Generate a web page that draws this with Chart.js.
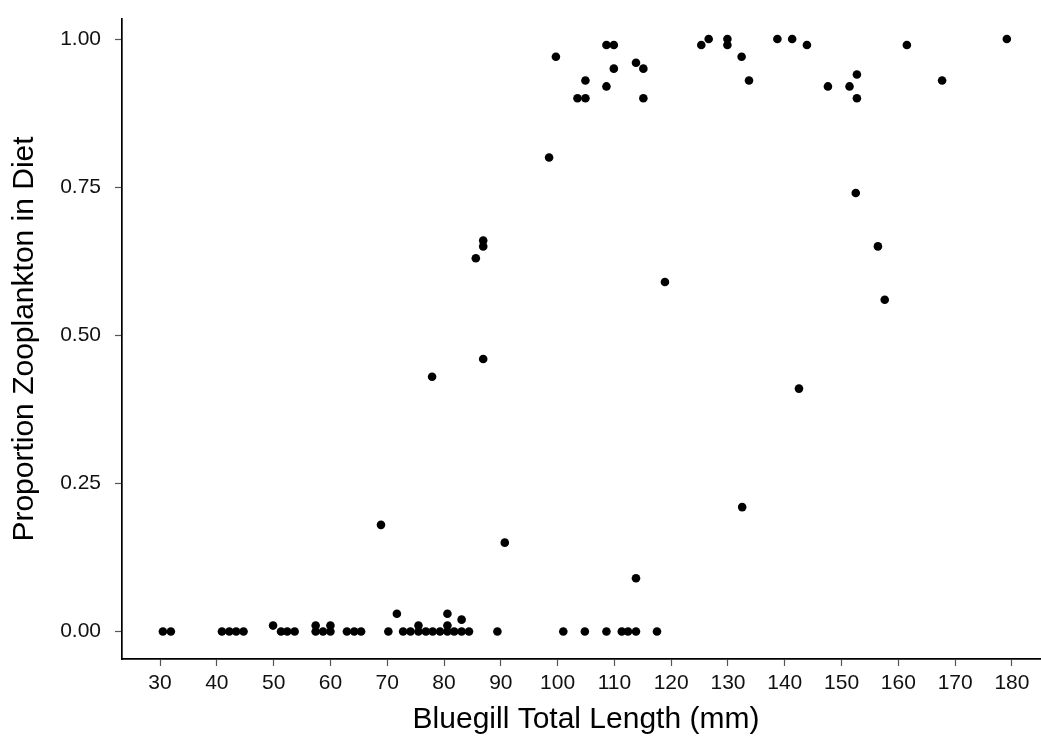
<!DOCTYPE html>
<html>
<head>
<meta charset="utf-8">
<script src="https://cdn.jsdelivr.net/npm/chart.js@4.4.1/dist/chart.umd.min.js"></script>
<style>
  html, body { margin: 0; padding: 0; background: #fff; overflow: hidden; width: 1041px; height: 750px; }
  #wrap { width: 1060px; height: 750px; }
</style>
</head>
<body>
<div id="wrap"><canvas id="c" width="1060" height="750"></canvas></div>
<script>
// Bluegill total length (mm) and proportion of zooplankton in the diet, one entry per fish
const lengthMm = [
  30.5, 31.9, 40.9, 42.2, 43.4, 44.7, 49.9, 51.3, 52.4, 53.7,
  57.4, 57.4, 58.7, 60.0, 60.0, 62.9, 64.2, 65.4, 70.2, 71.7,
  72.8, 74.1, 75.5, 75.5, 76.8, 78.0, 79.3, 80.6, 80.6, 80.6,
  81.8, 83.1, 83.1, 84.4, 89.4, 101.0, 104.8, 108.6, 111.3, 112.4,
  113.8, 117.5,
  68.9, 77.9, 85.6, 86.9, 86.9, 86.9, 90.7, 98.5, 99.7, 108.6,
  109.9, 109.9, 104.9, 108.6, 103.5, 104.9, 113.8, 115.1, 115.1, 113.8,
  118.9, 125.3, 126.6, 129.9, 129.9, 132.4, 133.7, 132.5, 138.7, 141.3,
  143.9, 142.5, 147.6, 151.4, 152.7, 152.7, 152.5, 156.4, 157.6, 161.5,
  167.7, 179.1
];
const propZoop = [
  0, 0, 0, 0, 0, 0, 0.01, 0, 0, 0,
  0.01, 0, 0, 0.01, 0, 0, 0, 0, 0, 0.03,
  0, 0, 0.01, 0, 0, 0, 0, 0.03, 0.01, 0,
  0, 0.02, 0, 0, 0, 0, 0, 0, 0, 0,
  0, 0,
  0.18, 0.43, 0.63, 0.66, 0.65, 0.46, 0.15, 0.80, 0.97, 0.99,
  0.99, 0.95, 0.93, 0.92, 0.90, 0.90, 0.96, 0.95, 0.90, 0.09,
  0.59, 0.99, 1.00, 1.00, 0.99, 0.97, 0.93, 0.21, 1.00, 1.00,
  0.99, 0.41, 0.92, 0.92, 0.94, 0.90, 0.74, 0.65, 0.56, 0.99,
  0.93, 1.00
];
const xTicks = [30, 40, 50, 60, 70, 80, 90, 100, 110, 120, 130, 140, 150, 160, 170, 180];
const yTicks = [0, 0.25, 0.5, 0.75, 1.0];

const FONT = 'Liberation Sans, Arial, Helvetica, sans-serif';

const points = lengthMm.map((x, i) => ({ x: x, y: propZoop[i] }));

new Chart(document.getElementById('c'), {
  type: 'scatter',
  data: {
    datasets: [{
      data: points,
      backgroundColor: '#000',
      borderWidth: 0,
      pointRadius: 4.3,
      pointHoverRadius: 4.3
    }]
  },
  options: {
    responsive: false,
    animation: false,
    devicePixelRatio: 1,
    layout: { padding: { top: 19, right: 10, bottom: 0, left: 0 } },
    plugins: { legend: { display: false }, tooltip: { enabled: false } },
    scales: {
      x: {
        type: 'linear',
        min: 23.3,
        max: 186.7,
        afterBuildTicks: s => { s.ticks = xTicks.map(v => ({ value: v })); },
        afterFit: s => { s.height = 91; s.paddingLeft = 0; s.paddingRight = 0; },
        grid: { display: true, drawOnChartArea: false, drawTicks: true, tickLength: 7, tickColor: '#555', tickWidth: 1.2 },
        border: { display: true, color: '#000', width: 1.7 },
        ticks: { color: '#111', font: { family: FONT, size: 21 }, padding: 5, maxRotation: 0, autoSkip: false },
        title: {
          display: true,
          text: 'Bluegill Total Length (mm)',
          color: '#000',
          font: { family: FONT, size: 30 },
          padding: { top: 0, bottom: 12 }
        }
      },
      y: {
        type: 'linear',
        min: -0.0464,
        max: 1.0338,
        afterBuildTicks: s => { s.ticks = yTicks.map(v => ({ value: v })); },
        afterFit: s => { s.width = 122; s.paddingTop = 0; s.paddingBottom = 0; },
        grid: { display: true, drawOnChartArea: false, drawTicks: true, tickLength: 7, tickColor: '#555', tickWidth: 1.2 },
        border: { display: true, color: '#000', width: 1.7 },
        ticks: {
          color: '#111',
          font: { family: FONT, size: 21 },
          padding: 14,
          autoSkip: false,
          callback: v => Number(v).toFixed(2)
        },
        title: {
          display: true,
          text: 'Proportion Zooplankton in Diet',
          color: '#000',
          font: { family: FONT, size: 30 },
          padding: { top: 7, bottom: 0 }
        }
      }
    }
  }
});
</script>
</body>
</html>
